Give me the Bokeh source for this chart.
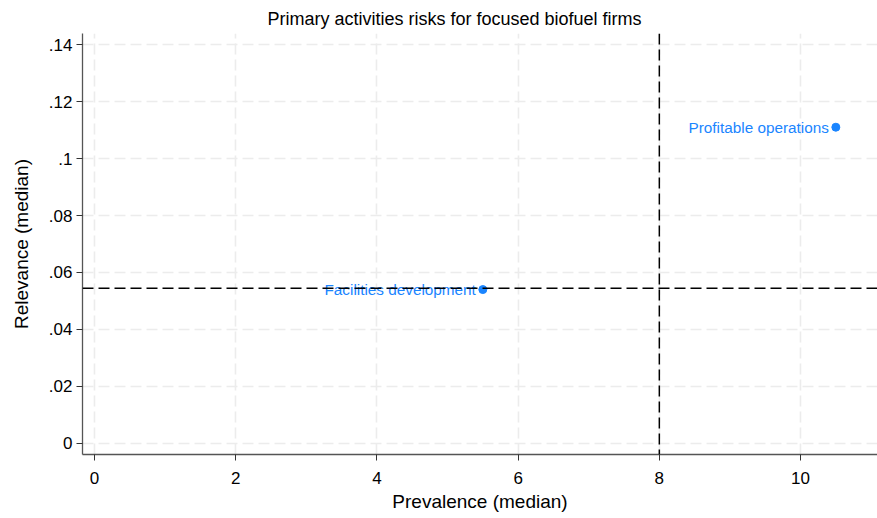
from bokeh.plotting import figure
from bokeh.models import ColumnDataSource, Span, Range1d, FixedTicker
from bokeh.embed import file_html
from bokeh.resources import INLINE

# Risk items: prevalence vs relevance medians
items = ["Facilities development", "Profitable operations"]
prevalence = [5.5, 10.5]
relevance = [0.054, 0.111]

# Reference lines (medians across items)
prevalence_cut = 8
relevance_cut = 0.0545

x_ticks = [0, 2, 4, 6, 8, 10]
y_ticks = [0, 0.02, 0.04, 0.06, 0.08, 0.10, 0.12, 0.14]
y_tick_labels = ["0", ".02", ".04", ".06", ".08", ".1", ".12", ".14"]

FONT = "Liberation Sans"
BLUE = "#1a85ff"

p = figure(width=877, height=518, output_backend="svg", toolbar_location=None,
           x_range=Range1d(-0.17, 11.09), y_range=Range1d(-0.0039, 0.1439),
           min_border_left=82, min_border_right=0, min_border_top=33,
           min_border_bottom=64)

p.title.text = "Primary activities risks for focused biofuel firms"
p.title.align = "left"
p.title.offset = 185
p.title.text_font = FONT
p.title.text_font_size = "18px"
p.title.text_font_style = "normal"
p.title.text_color = "#000000"

p.outline_line_color = None
p.background_fill_color = "white"
p.border_fill_color = "white"

for ax in (p.xaxis[0], p.yaxis[0]):
    ax.axis_line_color = "#555555"
    ax.axis_line_width = 1.3
    ax.major_tick_line_color = "#333333"
    ax.major_tick_out = 6
    ax.major_tick_in = 0
    ax.minor_tick_line_color = None
    ax.major_label_text_font = FONT
    ax.major_label_text_font_size = "17px"
    ax.major_label_text_color = "#000000"
    ax.axis_label_text_font = FONT
    ax.axis_label_text_font_size = "19px"
    ax.axis_label_text_font_style = "normal"
    ax.axis_label_text_color = "#000000"

p.xaxis.ticker = FixedTicker(ticks=x_ticks)
p.yaxis.ticker = FixedTicker(ticks=y_ticks)
p.yaxis.major_label_overrides = {t: l for t, l in zip(y_ticks, y_tick_labels)}
p.yaxis.major_label_orientation = "horizontal"
p.xaxis.axis_label = "Prevalence (median)"
p.yaxis.axis_label = "Relevance (median)"
p.xaxis.major_label_standoff = 11
p.yaxis.major_label_standoff = 4
p.xaxis.axis_label_standoff = 4
p.yaxis.axis_label_standoff = 14

for g in (p.xgrid[0], p.ygrid[0]):
    g.grid_line_color = "#ececec"
    g.grid_line_dash = "11 5"
    g.grid_line_width = 1.6

p.add_layout(Span(location=prevalence_cut, dimension="height",
                  line_color="#000000", line_dash="11 5", line_width=1.5))
p.add_layout(Span(location=relevance_cut, dimension="width",
                  line_color="#000000", line_dash="11 5", line_width=1.5))

src = ColumnDataSource(dict(x=prevalence, y=relevance, label=items))
p.scatter("x", "y", source=src, size=8, color=BLUE)
p.text("x", "y", text="label", source=src, x_offset=-7,
       text_align="right", text_baseline="middle",
       text_font={"value": FONT}, text_font_size={"value": "15.3px"},
       text_color=BLUE)

open("out.html", "w").write(file_html(p, INLINE))
